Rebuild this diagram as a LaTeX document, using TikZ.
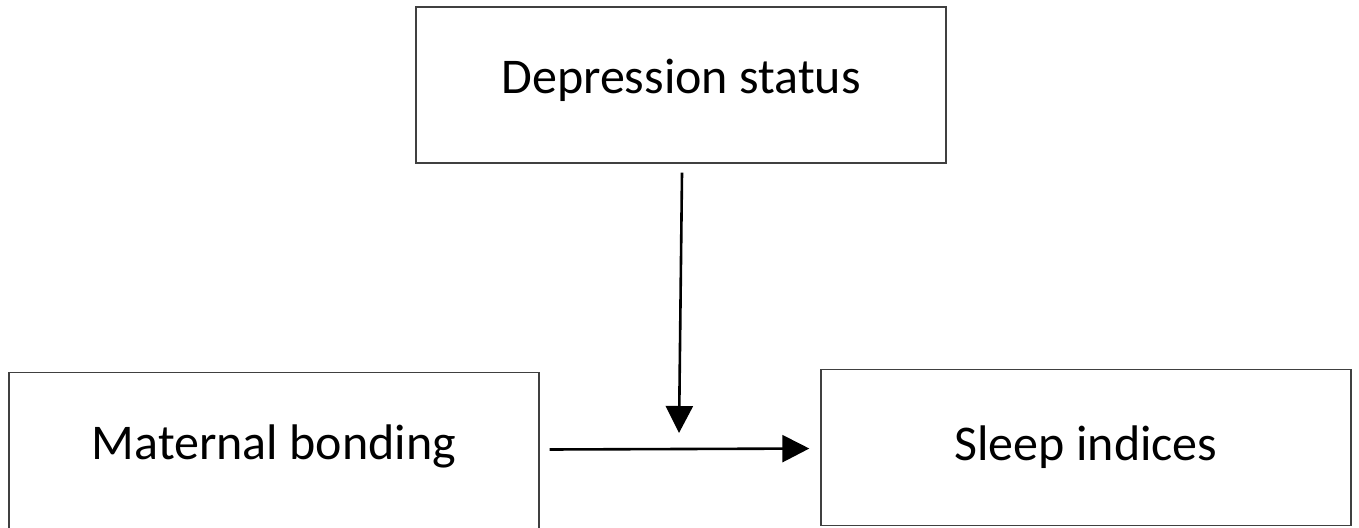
\documentclass[tikz,border=0pt]{standalone}
\usepackage{fontspec}
\setmainfont{Carlito}
\usetikzlibrary{arrows.meta,positioning}
\definecolor{fgInk}{HTML}{000000}
\definecolor{fgEdge}{HTML}{404040}
\tikzset{
 panel/.style={font=\fontsize{25}{30}\selectfont,line cap=butt,text=fgInk},
 factor/.style={rectangle,draw=fgEdge,fill=white,line width=.7pt,inner sep=0pt,
   minimum width=265pt,minimum height=78pt},
 flow/.style={draw=fgInk,line width=1.3pt,-{Triangle[length=13.5pt,width=13.5pt]}}
}

\begin{document}
\begin{tikzpicture}[panel,x=.5pt,y=-.5pt]
 \useasboundingbox (0,0) rectangle (1359,527);
 \node[factor,text depth=9pt] (status) at (681,85) {Depression status};
 \node[factor,text depth=8pt] (bond) at (274,450.5) {Maternal bonding};
 \node[factor] (sleep) at (1086,447.5) {Sleep indices};
 \coordinate (meet) at (679,433);
 \draw[flow,shorten <=5pt,shorten >=5.5pt] (bond) -- (sleep);
 \draw[flow] ([xshift=.5pt,yshift=-4.5pt]status.south) -- (meet);
\end{tikzpicture}
\end{document}
